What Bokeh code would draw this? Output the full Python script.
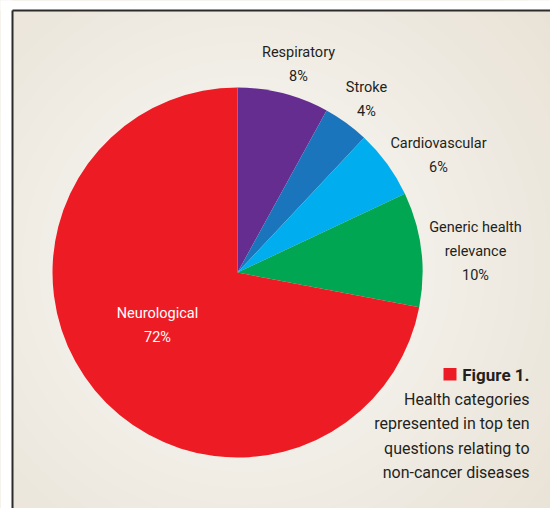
import numpy as np
from bokeh.plotting import figure
from bokeh.models import Range1d
from bokeh.core.properties import value
from bokeh.embed import file_html
from bokeh.resources import INLINE

# Data
categories = ["Respiratory", "Stroke", "Cardiovascular", "Generic health relevance", "Neurological"]
shares = [8, 4, 6, 10, 72]
colors = ["#662d91", "#1b75bc", "#00aeef", "#00a651", "#ed1c24"]
label_lines = [["Respiratory", "8%"], ["Stroke", "4%"], ["Cardiovascular", "6%"],
               ["Generic health", "relevance", "10%"], ["Neurological", "72%"]]
caption_title = "Figure 1."
caption_lines = ["Health categories", "represented in top ten", "questions relating to", "non-cancer diseases"]

W, H = 550, 508
FONT = "Roboto"

def X(px):
    return px

def Y(py):
    return H - py

p = figure(width=W, height=H, output_backend="svg", toolbar_location=None,
           x_range=Range1d(0, W), y_range=Range1d(0, H), min_border=0)
p.axis.visible = False
p.grid.visible = False
p.outline_line_color = None
p.background_fill_color = "white"
p.border_fill_color = "white"

# panel background with soft radial glow
base = np.array([0xe8, 0xe1, 0xd5], dtype=float)
light = np.array([0xf2, 0xef, 0xe8], dtype=float)
p.quad(left=X(12), right=W + 5, bottom=-5, top=Y(10), fill_color="#e8e1d5", line_color=None)
n = 14
for i in range(n):
    t = (i + 1) / n
    r = 420 - (420 - 190) * t
    c = base + (light - base) * t
    col = "#%02x%02x%02x" % tuple(int(round(v)) for v in c)
    p.circle(x=X(245), y=Y(265), radius=r, fill_color=col, line_color=None)
# mask glow outside panel (left/top)
p.quad(left=-10, right=X(12), bottom=-10, top=H + 10, fill_color="white", line_color=None)
p.quad(left=-10, right=W + 10, bottom=Y(10), top=H + 10, fill_color="white", line_color=None)
# border lines
p.segment(x0=[X(12), X(12)], y0=[Y(10), Y(10)], x1=[X(12), W + 5], y1=[-5, Y(10)],
          line_color="#2b2b2b", line_width=2)

# pie
cx, cy, R = X(237), Y(272), 185
frac = np.array(shares, dtype=float) / sum(shares)
cum = np.concatenate([[0], np.cumsum(frac)])
starts = np.pi / 2 - 2 * np.pi * cum[:-1]
ends = np.pi / 2 - 2 * np.pi * cum[1:]
p.wedge(x=cx, y=cy, radius=R, start_angle=starts, end_angle=ends, direction="clock",
        fill_color=colors, line_color=None)

# labels
label_pos = [(298, 51.7, "#231f20"), (366, 86.7, "#231f20"), (438, 142.7, "#231f20"),
             (475, 226.7, "#231f20"), (157, 312.7, "white")]
for lines, (lx, ly, lc) in zip(label_lines, label_pos):
    xs = [X(lx)] * len(lines)
    ys = [Y(ly + 24.2 * k) for k in range(len(lines))]
    p.text(x=xs, y=ys, text=lines, text_align="center", text_baseline="middle",
           text_font=value(FONT), text_font_size="14.5px", text_color=lc)

# caption
p.quad(left=X(443), right=X(456), bottom=Y(380), top=Y(367.5), fill_color="#ed1c24", line_color=None)
p.text(x=[X(529)], y=[Y(374)], text=[caption_title], text_align="right", text_baseline="middle",
       text_font=value(FONT), text_font_size="17px", text_font_style="bold", text_color="#231f20")
p.text(x=[X(529)] * len(caption_lines), y=[Y(398.5 + 24.6 * k) for k in range(len(caption_lines))],
       text=caption_lines, text_align="right", text_baseline="middle",
       text_font=value(FONT), text_font_size="16px", text_color="#231f20")

open("out.html", "w").write(file_html(p, INLINE))
